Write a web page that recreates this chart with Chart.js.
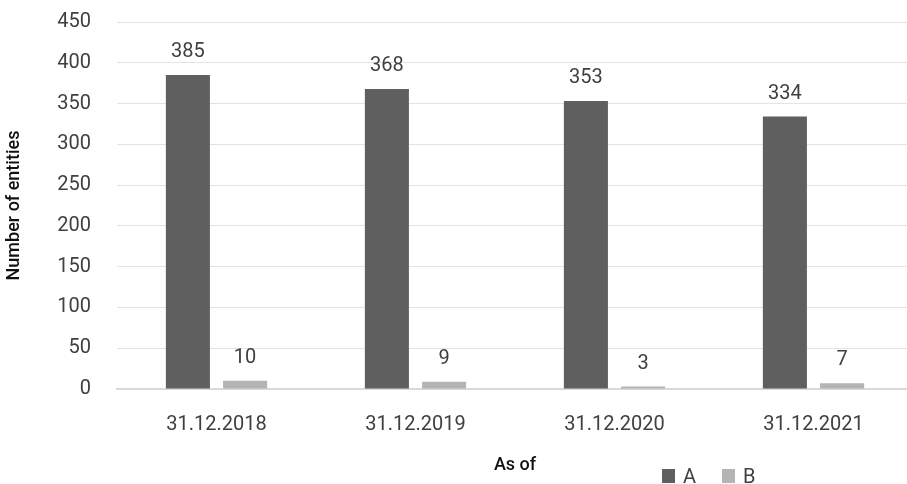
<!DOCTYPE html>
<html>
<head>
<meta charset="utf-8">
<script src="https://cdn.jsdelivr.net/npm/chart.js@4/dist/chart.umd.min.js"></script>
<style>
  body { margin: 0; overflow: hidden; background: #fff; font-family: Roboto, sans-serif; }
  #wrap { position: relative; width: 913px; height: 484px; }
  #legend { position: absolute; left: 662px; top: 464px; display: flex; align-items: center; font-size: 20px; color: #404040; }
  #legend span.box { display: inline-block; width: 13px; height: 14px; margin-right: 8px; }
  #legend span.item { display: flex; align-items: center; margin-right: 26px; }
</style>
</head>
<body>
<div id="wrap">
  <canvas id="chart"></canvas>
  <div id="legend"></div>
</div>
<script>
const categories = ["31.12.2018", "31.12.2019", "31.12.2020", "31.12.2021"];
const seriesA = [385, 368, 353, 334];
const seriesB = [10, 9, 3, 7];
const yTicks = [0, 50, 100, 150, 200, 250, 300, 350, 400, 450];

const colorA = "#5f5f5f";
const colorB = "#b4b4b4";
const textColor = "#404040";

// value labels above each bar
const barLabels = {
  id: "barLabels",
  afterDatasetsDraw(chart) {
    const ctx = chart.ctx;
    ctx.save();
    ctx.font = "20px Roboto";
    ctx.fillStyle = textColor;
    ctx.textAlign = "center";
    ctx.textBaseline = "alphabetic";
    chart.data.datasets.forEach((ds, i) => {
      chart.getDatasetMeta(i).data.forEach((bar, j) => {
        ctx.fillText(ds.data[j], bar.x, bar.y - 18);
      });
    });
    ctx.restore();
  }
};

const chart = new Chart(document.getElementById("chart"), {
  type: "bar",
  data: {
    labels: categories,
    datasets: [
      { label: "A", data: seriesA, backgroundColor: colorA, categoryPercentage: 0.575, barPercentage: 0.77 },
      { label: "B", data: seriesB, backgroundColor: colorB, categoryPercentage: 0.575, barPercentage: 0.77 }
    ]
  },
  options: {
    responsive: true,
    maintainAspectRatio: false,
    animation: false,
    layout: { padding: { top: 22, right: 0, bottom: 0, left: 0 } },
    plugins: {
      legend: { display: false },
      tooltip: { enabled: false }
    },
    scales: {
      x: {
        grid: { display: false, drawTicks: false },
        border: { display: true, color: "#d9d9d9", width: 2 },
        ticks: { color: textColor, font: { family: "Roboto", size: 20 }, padding: 24, maxRotation: 0 },
        title: { display: true, text: "As of", color: "#111", font: { family: "Roboto", size: 18, weight: "500" }, padding: { top: 0, bottom: 8 } },
        afterFit: scale => { scale.height = 95; }
      },
      y: {
        min: 0,
        max: 450,
        afterBuildTicks: scale => { scale.ticks = yTicks.map(v => ({ value: v })); },
        // invisible tick marks give the gap between labels and plot
        grid: { color: "#e3e3e3", lineWidth: 1, drawTicks: true, tickLength: 24, tickColor: "rgba(0,0,0,0)" },
        border: { display: false },
        ticks: { color: textColor, font: { family: "Roboto", size: 20 }, padding: 2 },
        title: { display: true, text: "Number of entities", color: "#111", font: { family: "Roboto", size: 18, weight: "500" }, padding: { top: 4, bottom: 0 } },
        afterFit: scale => { scale.width = 117; }
      }
    }
  },
  plugins: [barLabels]
});

// legend
const legend = document.getElementById("legend");
chart.data.datasets.forEach(ds => {
  legend.innerHTML += `<span class="item"><span class="box" style="background:${ds.backgroundColor}"></span>${ds.label}</span>`;
});
</script>
</body>
</html>
